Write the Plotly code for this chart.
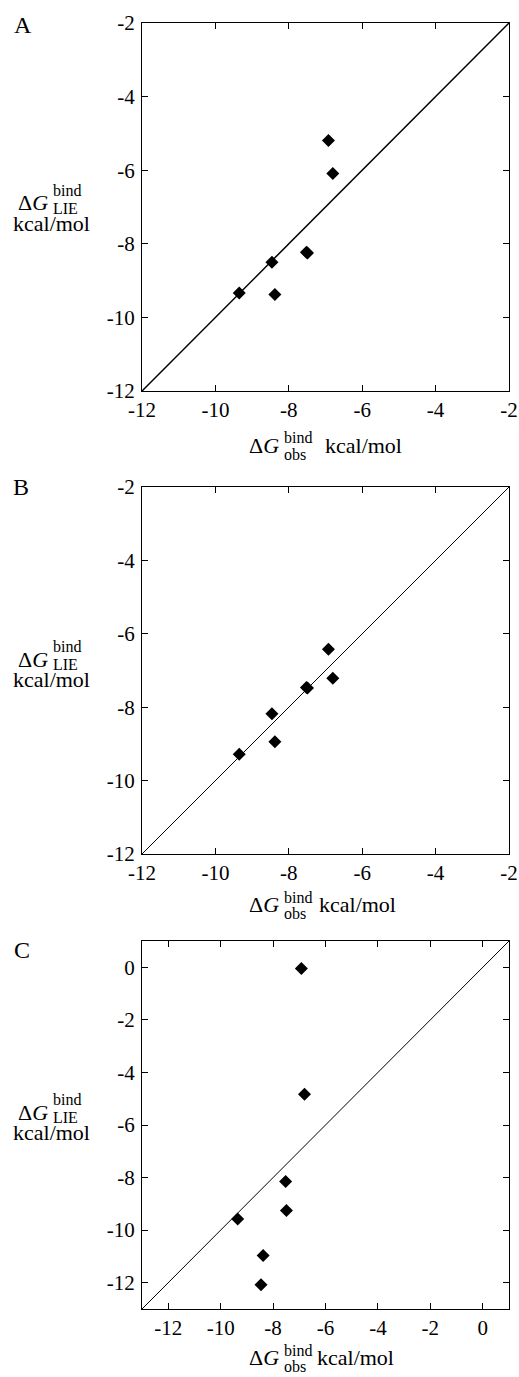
import plotly.graph_objects as go

W, H = 519, 1377
FONT = "Liberation Serif, Times New Roman, serif"

# ---- data (kcal/mol) ----
obs = [-6.92, -6.80, -7.52, -7.49, -9.35, -8.38, -8.46]
lie_A = [-5.19, -6.09, -8.23, -8.25, -9.34, -9.38, -8.50]
lie_B = [-6.42, -7.21, -7.46, -7.48, -9.28, -8.94, -8.18]
lie_C = [-0.05, -4.83, -8.15, -9.25, -9.58, -10.96, -12.08]

range_AB = [-12, -2]
range_C = [-13, 1]
ticks_AB = [-12, -10, -8, -6, -4, -2]
ticks_C = [-12, -10, -8, -6, -4, -2, 0]
ticktext_AB = ["-12", "-10", "-8", "-6", "-4", "-2"]
ticktext_C = ["-12", "-10", "-8", "-6", "-4", "-2", "0"]
panel_letters = ["A", "B", "C"]


def fx(px):
    return px / W


def fy(py):
    return 1 - py / H


# plot-area geometry in pixels
panels = [
    dict(key="", lie=lie_A, rng=range_AB, tv=ticks_AB, tt=ticktext_AB, top=23, bot=391, lw=1.5,
         letter=(23, 25), ytl=203, xtl=445),
    dict(key="2", lie=lie_B, rng=range_AB, tv=ticks_AB, tt=ticktext_AB, top=487, bot=854, lw=1.0,
         letter=(21, 487.5), ytl=659, xtl=904.5),
    dict(key="3", lie=lie_C, rng=range_C, tv=ticks_C, tt=ticktext_C, top=941, bot=1309, lw=1.0,
         letter=(22, 949.5), ytl=1112, xtl=1357.5),
]
LEFT, RIGHT = 142, 509

fig = go.Figure()
annotations = []
layout = dict(width=W, height=H, margin=dict(l=0, r=0, t=0, b=0, autoexpand=False),
              plot_bgcolor="white", paper_bgcolor="white", showlegend=False)

for i, p in enumerate(panels):
    k = p["key"]
    xa = "x" + k
    ya = "y" + k
    # identity line spanning the axis range
    fig.add_trace(go.Scatter(x=p["rng"], y=p["rng"], mode="lines", xaxis=xa, yaxis=ya,
                             line=dict(color="black", width=p["lw"]), hoverinfo="skip",
                             cliponaxis=False))
    fig.add_trace(go.Scatter(x=obs, y=p["lie"], mode="markers", xaxis=xa, yaxis=ya,
                             marker=dict(symbol="diamond", size=10, color="black")))
    axcommon = dict(range=p["rng"], tickmode="array", tickvals=p["tv"], ticktext=p["tt"],
                    ticks="inside", ticklen=6, tickwidth=1, tickcolor="black",
                    showline=True, linecolor="black", linewidth=1, mirror="ticks",
                    showgrid=False, zeroline=False, automargin=False,
                    tickfont=dict(family=FONT, size=21, color="black"))
    layout["xaxis" + k] = dict(axcommon, domain=[fx(LEFT), fx(RIGHT)], anchor=ya,
                               ticklabelstandoff=0)
    layout["yaxis" + k] = dict(axcommon, domain=[fy(p["bot"]), fy(p["top"])], anchor=xa,
                               ticklabelstandoff=2)

    # panel letter
    lx, ly = p["letter"]
    annotations.append(dict(text=panel_letters[i], x=fx(lx), y=fy(ly), xanchor="center",
                            yanchor="middle", font=dict(family=FONT, size=24, color="black")))

    # y-axis title: ΔG^bind_LIE / kcal/mol
    yc = p["ytl"]
    annotations += [
        dict(text="Δ<i>G</i>", x=fx(50), y=fy(yc), xanchor="right", yanchor="middle",
             font=dict(family=FONT, size=22, color="black")),
        dict(text="bind", x=fx(51), y=fy(yc - 12.5), xanchor="left", yanchor="middle",
             font=dict(family=FONT, size=16, color="black")),
        dict(text="LIE", x=fx(51), y=fy(yc + 5), xanchor="left", yanchor="middle",
             font=dict(family=FONT, size=16, color="black")),
        dict(text="kcal/mol", x=fx(51.5), y=fy(yc + 20), xanchor="center", yanchor="middle",
             font=dict(family=FONT, size=22, color="black")),
    ]

    # x-axis title: ΔG^bind_obs kcal/mol
    xc = p["xtl"]
    kcal_left = [323, 317, 315][i]
    annotations += [
        dict(text="Δ<i>G</i>", x=fx(281), y=fy(xc), xanchor="right", yanchor="middle",
             font=dict(family=FONT, size=22, color="black")),
        dict(text="bind", x=fx(282), y=fy(xc - 7.5), xanchor="left", yanchor="middle",
             font=dict(family=FONT, size=16, color="black")),
        dict(text="obs", x=fx(282), y=fy(xc + 9), xanchor="left", yanchor="middle",
             font=dict(family=FONT, size=16, color="black")),
        dict(text="kcal/mol", x=fx(kcal_left), y=fy(xc), xanchor="left", yanchor="middle",
             font=dict(family=FONT, size=22, color="black")),
    ]

for a in annotations:
    a.update(xref="paper", yref="paper", showarrow=False)
layout["annotations"] = annotations

fig.update_layout(**layout)
fig.write_html("out.html", config={"displayModeBar": False},
               post_script="document.body.style.margin='0';document.body.style.overflow='hidden';")
